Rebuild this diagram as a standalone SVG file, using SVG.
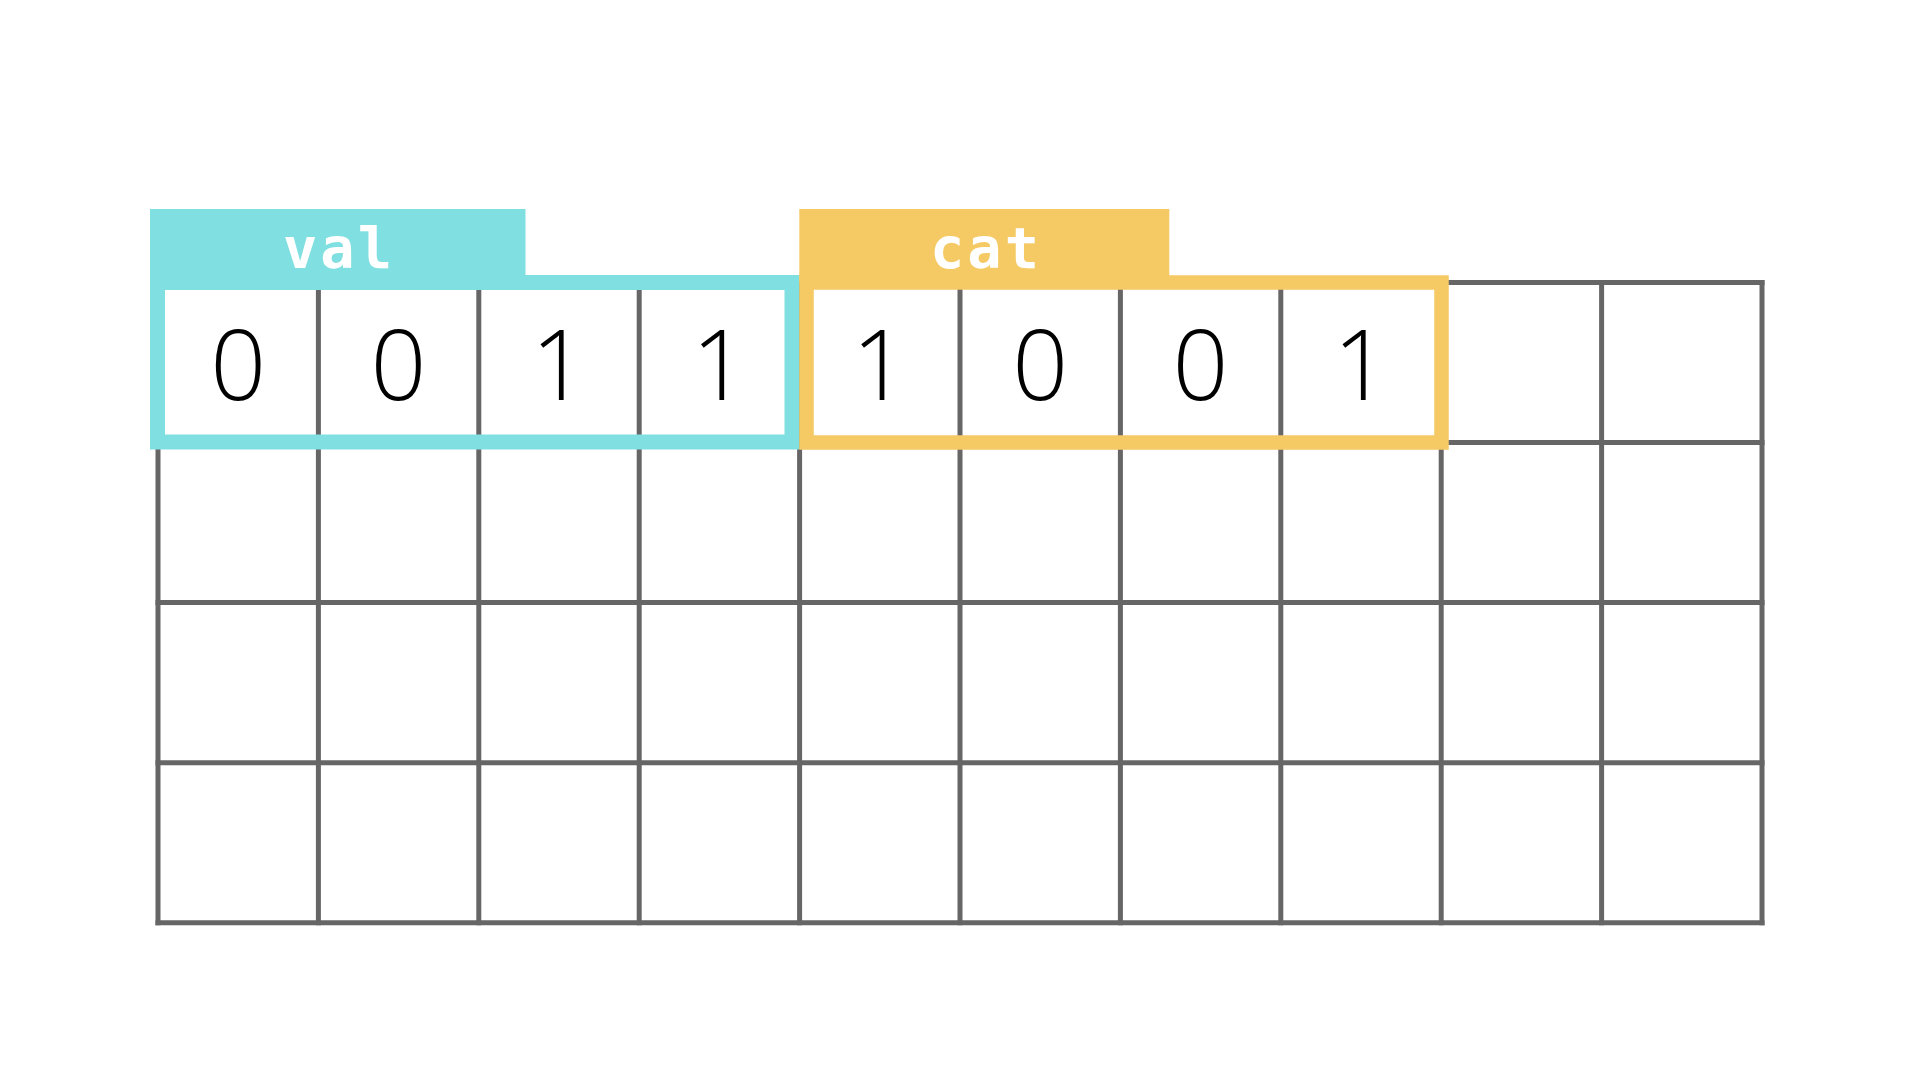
<svg xmlns="http://www.w3.org/2000/svg" width="1915" height="1077" viewBox="0 0 1915 1077">
<style>
.grid line{stroke:#666666;stroke-width:5;stroke-linecap:square}
.digit{font-family:"Open Sans","Noto Sans",sans-serif;font-weight:300;font-size:98px;fill:#000000;text-anchor:middle}
.tag{font-family:"DejaVu Sans Mono","Liberation Mono",monospace;font-weight:bold;font-size:57px;letter-spacing:3px;fill:#FFFFFF;text-anchor:middle}
</style>
<rect x="0" y="0" width="1915" height="1077" fill="#FFFFFF"/>
<g id="grid" class="grid">
<line x1="158" y1="282.5" x2="158" y2="922.7"/>
<line x1="318.4" y1="282.5" x2="318.4" y2="922.7"/>
<line x1="478.8" y1="282.5" x2="478.8" y2="922.7"/>
<line x1="639.2" y1="282.5" x2="639.2" y2="922.7"/>
<line x1="799.6" y1="282.5" x2="799.6" y2="922.7"/>
<line x1="960" y1="282.5" x2="960" y2="922.7"/>
<line x1="1120.4" y1="282.5" x2="1120.4" y2="922.7"/>
<line x1="1280.8" y1="282.5" x2="1280.8" y2="922.7"/>
<line x1="1441.2" y1="282.5" x2="1441.2" y2="922.7"/>
<line x1="1601.6" y1="282.5" x2="1601.6" y2="922.7"/>
<line x1="1762" y1="282.5" x2="1762" y2="922.7"/>
<line x1="158" y1="282.5" x2="1762" y2="282.5"/>
<line x1="158" y1="442.5" x2="1762" y2="442.5"/>
<line x1="158" y1="602.6" x2="1762" y2="602.6"/>
<line x1="158" y1="762.7" x2="1762" y2="762.7"/>
<line x1="158" y1="922.7" x2="1762" y2="922.7"/>
</g>
<g id="connectors"></g>
<g id="val">
<rect x="150" y="209" width="375.5" height="74" fill="#80DFE0"/>
<rect x="157.5" y="282.5" width="634.5" height="159.5" fill="none" stroke="#80DFE0" stroke-width="15"/>
<text class="tag" x="339" y="268">val</text>
<text class="digit" x="238.2" y="400">0</text>
<text class="digit" x="398.6" y="400">0</text>
<text class="digit" x="559" y="400">1</text>
<text class="digit" x="719.4" y="400">1</text>
</g>
<g id="cat">
<rect x="799.3" y="209" width="370" height="74" fill="#F5C963"/>
<rect x="806.5" y="282.5" width="635" height="160" fill="none" stroke="#F5C963" stroke-width="14.5"/>
<text class="tag" x="986" y="268">cat</text>
<text class="digit" x="879.8" y="400">1</text>
<text class="digit" x="1040.2" y="400">0</text>
<text class="digit" x="1200.6" y="400">0</text>
<text class="digit" x="1361" y="400">1</text>
</g>
</svg>
